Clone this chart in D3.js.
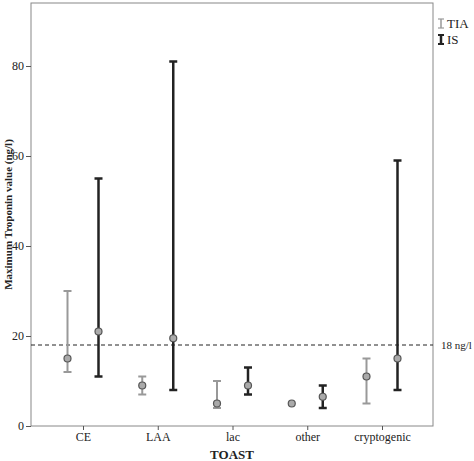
<!DOCTYPE html><html><head><script src="https://cdn.jsdelivr.net/npm/d3@7"></script>
<style>body{margin:0;background:#fff}text{font-family:"Liberation Serif",serif}</style></head><body>
<script>
const categories=["CE","LAA","lac","other","cryptogenic"];
const groups=["TIA","IS"];
const tiaLow=[12,7,4,null,5], tiaMean=[15,9,5,5,11], tiaHigh=[30,11,10,null,15];
const isLow=[11,8,7,4,8], isMean=[21,19.5,9,6.5,15], isHigh=[55,81,13,9,59];
const yTicks=[0,20,40,60,80];
const refLine=18;
const W=474,H=461,L=31,R=433,T=3,B=426;
const svg=d3.select("body").append("svg").attr("width",W).attr("height",H);
const x=d3.scalePoint().domain(categories).range([83,382]);
const y=d3.scaleLinear().domain([0,80]).range([B,66]);
svg.append("rect").attr("x",L).attr("y",T).attr("width",R-L).attr("height",B-T).attr("fill","none").attr("stroke","#888");
const ya=svg.append("g").attr("transform",`translate(${L},0)`).call(d3.axisLeft(y).tickValues(yTicks).tickSize(5).tickPadding(2));
ya.select(".domain").remove();ya.selectAll("line").attr("stroke","#555");ya.selectAll("text").attr("font-size",12).attr("fill","#222").style("font-family","Liberation Serif");
const xa=svg.append("g").attr("transform",`translate(0,${B})`).call(d3.axisBottom(x).tickSize(4).tickPadding(2));
xa.select(".domain").remove();xa.selectAll("line").attr("stroke","#555");xa.selectAll("text").attr("font-size",12).attr("fill","#222").style("font-family","Liberation Serif");
svg.append("text").attr("x",(L+R)/2).attr("y",459).attr("text-anchor","middle").attr("font-size",13).attr("font-weight","bold").attr("fill","#222").text("TOAST");
svg.append("text").attr("transform",`translate(12,${(T+B)/2}) rotate(-90)`).attr("text-anchor","middle").attr("font-size",11).attr("font-weight","bold").attr("fill","#222").text("Maximum Troponin value (ng/l)");
svg.append("line").attr("x1",L).attr("x2",R).attr("y1",y(refLine)).attr("y2",y(refLine)).attr("stroke","#222").attr("stroke-dasharray","4,3");
svg.append("text").attr("x",441).attr("y",y(refLine)+4).attr("font-size",11).attr("fill","#222").text("18 ng/l");
const sets=[{lo:tiaLow,m:tiaMean,hi:tiaHigh,off:-15.5,c:"#999",w:2},{lo:isLow,m:isMean,hi:isHigh,off:15.5,c:"#222",w:2.5}];
sets.forEach(s=>{categories.forEach((c,i)=>{const cx=x(c)+s.off;
 if(s.lo[i]!=null){svg.append("line").attr("x1",cx).attr("x2",cx).attr("y1",y(s.lo[i])).attr("y2",y(s.hi[i])).attr("stroke",s.c).attr("stroke-width",s.w);
 [s.lo[i],s.hi[i]].forEach(v=>svg.append("line").attr("x1",cx-4).attr("x2",cx+4).attr("y1",y(v)).attr("y2",y(v)).attr("stroke",s.c).attr("stroke-width",s.w));}
});});
sets.forEach(s=>categories.forEach((c,i)=>svg.append("circle").attr("cx",x(c)+s.off).attr("cy",y(s.m[i])).attr("r",3.5).attr("fill","#aaa").attr("stroke","#555").attr("stroke-width",1.2)));
groups.forEach((g,i)=>{const yy=28+i*16,c=i?"#222":"#999",w=i?2.5:1.5;
 svg.append("line").attr("x1",441).attr("x2",441).attr("y1",yy-9).attr("y2",yy).attr("stroke",c).attr("stroke-width",w);
 [yy-9,yy].forEach(v=>svg.append("line").attr("x1",438).attr("x2",444).attr("y1",v).attr("y2",v).attr("stroke",c).attr("stroke-width",w>2?2:1.2));
 svg.append("text").attr("x",447).attr("y",yy).attr("font-size",13).attr("fill","#222").text(g);});
</script></body></html>
